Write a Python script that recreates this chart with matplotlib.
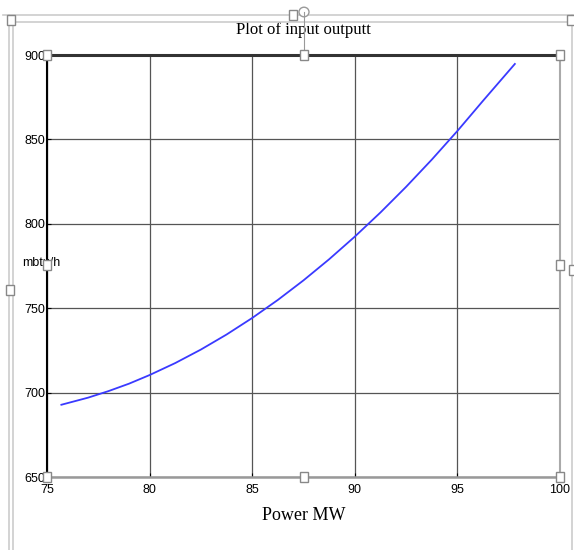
import matplotlib
matplotlib.use("Agg")
import matplotlib.pyplot as plt
from matplotlib.patches import Rectangle, Circle
from matplotlib.lines import Line2D

# values
power_mw = [75.7, 77.0, 78.0, 79.0, 80.0, 81.25, 82.5, 83.75, 85.0, 86.25,
            87.5, 88.75, 90.0, 91.25, 92.5, 93.75, 95.0, 96.25, 97.8]
input_mbtu = [692.8, 697.0, 700.9, 705.3, 710.4, 717.5, 725.5, 734.4, 744.2, 754.9,
              766.5, 779.0, 792.4, 806.7, 821.9, 838.0, 855.0, 872.9, 894.7]
x_ticks = [75, 80, 85, 90, 95, 100]
y_ticks = [650, 700, 750, 800, 850, 900]

W, H = 574, 550
fig = plt.figure(figsize=(W / 100, H / 100), dpi=100)

# axes box in pixels: left 47, right 560, top 55, bottom 477
ax = fig.add_axes([47 / W, 1 - 477 / H, (560 - 47) / W, (477 - 55) / H])
ax.plot(power_mw, input_mbtu, color="#3a3aff", lw=1.3)
ax.set_xlim(75, 100)
ax.set_ylim(650, 900)
ax.set_xticks(x_ticks)
ax.set_yticks(y_ticks)
ax.grid(True, color="#555555", lw=0.9)
ax.tick_params(length=3, width=0.8, pad=1, labelsize=9, direction="in")
ax.tick_params(axis="x", pad=5)
for lab in ax.get_xticklabels() + ax.get_yticklabels():
    lab.set_family("Liberation Sans")
ax.spines["top"].set_linewidth(2.2)
ax.spines["top"].set_color("#333333")
ax.spines["left"].set_linewidth(1.5)
ax.spines["bottom"].set_color("#999999")
ax.spines["bottom"].set_linewidth(1.8)
ax.spines["right"].set_color("#aaaaaa")
ax.spines["right"].set_linewidth(1.5)

ax.set_title("Plot of input outputt", family="Liberation Serif", fontsize=12, pad=15)
ax.set_xlabel("Power MW", family="Liberation Serif", fontsize=13, labelpad=8)
fig.text(22 / W, 1 - 263 / H, "mbtu/h", family="Liberation Sans", fontsize=9,
         ha="left", va="center")


def px(x, y):
    return x / W, 1 - y / H


# outer frame of the embedded picture
for (x0, y0, x1, y1) in [(3, 15, 574, 15), (10, 22, 574, 22), (9, 15, 9, 550),
                         (13, 22, 13, 550), (572, 15, 572, 550)]:
    a, b = px(x0, y0)
    c, d = px(x1, y1)
    fig.add_artist(Line2D([a, c], [b, d], color="#cccccc", lw=1.2))

# rotation handle
a, b = px(304, 12)
fig.add_artist(Circle((a, b), 5 / W, facecolor="white", edgecolor="#999999",
                      lw=1, zorder=9))
a, b = px(304, 12)
c, d = px(304, 55)
fig.add_artist(Line2D([a, c], [b, d], color="#999999", lw=0.8, zorder=9))

# selection handles
handles = [(47, 55), (304, 55), (560, 55), (47, 265), (560, 265),
           (47, 477), (304, 477), (560, 477), (293, 15), (11, 20), (571, 20),
           (10, 290), (573, 270)]
for (hx, hy) in handles:
    a, b = px(hx - 4, hy + 5)
    fig.add_artist(Rectangle((a, b), 8 / W, 10 / H, facecolor="white",
                             edgecolor="#888888", lw=1, zorder=10))

fig.savefig("out.png", dpi=100)
